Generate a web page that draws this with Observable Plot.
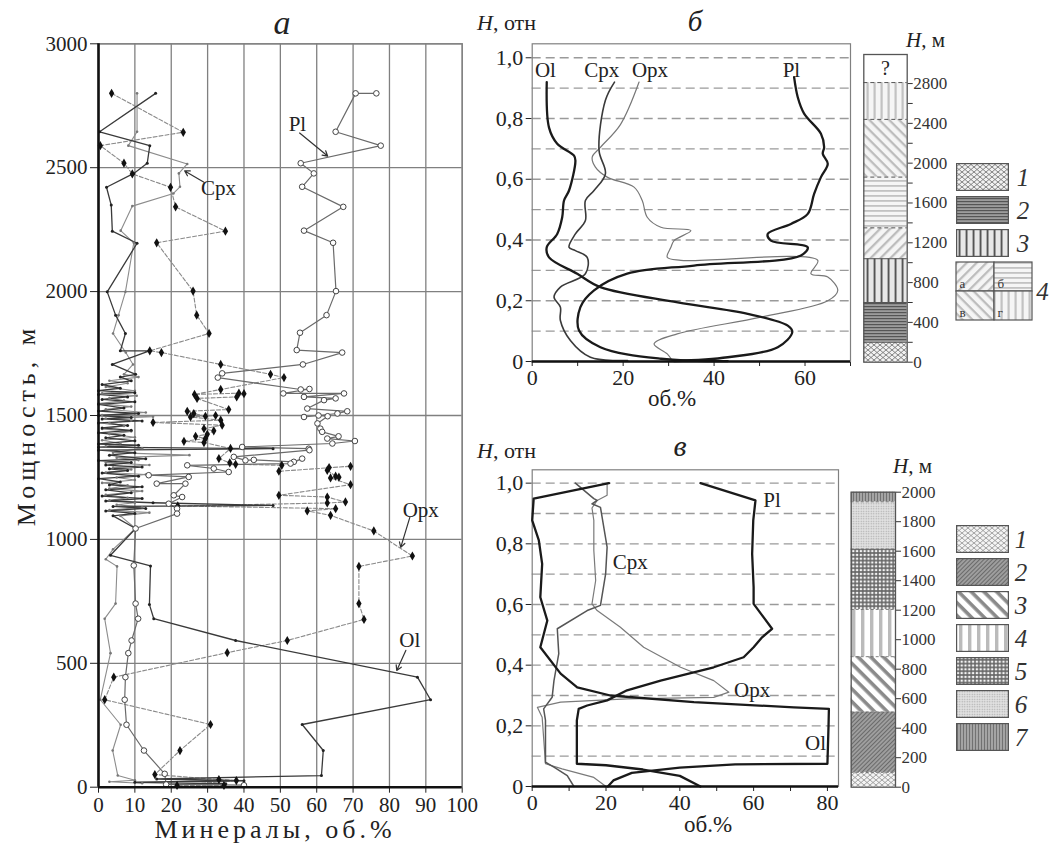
<!DOCTYPE html>
<html><head><meta charset="utf-8">
<script src="https://cdn.jsdelivr.net/npm/d3@7"></script>
<script src="https://cdn.jsdelivr.net/npm/@observablehq/plot@0.6"></script>
<style>
body{margin:0;background:#fff}
#root{position:relative;width:1051px;height:846px;overflow:hidden;background:#fff;font-family:"Liberation Serif","DejaVu Serif",serif}
.pane{position:absolute}
.pane svg{display:block;overflow:visible}
.pane svg text{font-family:"Liberation Serif","DejaVu Serif",serif}
</style></head><body>
<svg width="0" height="0" style="position:absolute">
<defs>
<pattern id="pb1" width="6" height="5" patternUnits="userSpaceOnUse"><rect width="6" height="5" fill="#f2f2f2"/><path d="M0,0L3,2.5L6,0M0,5L3,2.5L6,5" fill="none" stroke="#777" stroke-width="0.9"/></pattern>
<pattern id="pb2" width="4" height="3" patternUnits="userSpaceOnUse"><rect width="4" height="3" fill="#9c9c9c"/><rect width="4" height="1.2" fill="#555"/></pattern>
<pattern id="pb3" width="7" height="4" patternUnits="userSpaceOnUse"><rect width="7" height="4" fill="#e8e8e8"/><rect x="2.6" width="1.9" height="4" fill="#555"/></pattern>
<pattern id="pb4a" width="7" height="7" patternUnits="userSpaceOnUse" patternTransform="rotate(-45)"><rect width="7" height="7" fill="#f5f5f5"/><rect width="7" height="2.3" fill="#bdbdbd"/></pattern>
<pattern id="pb4b" width="4" height="5" patternUnits="userSpaceOnUse"><rect width="4" height="5" fill="#f5f5f5"/><rect width="4" height="1.8" fill="#c2c2c2"/></pattern>
<pattern id="pb4c" width="7" height="7" patternUnits="userSpaceOnUse" patternTransform="rotate(45)"><rect width="7" height="7" fill="#f5f5f5"/><rect width="7" height="2.3" fill="#bdbdbd"/></pattern>
<pattern id="pb4d" width="7" height="4" patternUnits="userSpaceOnUse"><rect width="7" height="4" fill="#f5f5f5"/><rect x="2.5" width="2.2" height="4" fill="#c2c2c2"/></pattern>
<pattern id="pv1" width="6" height="5" patternUnits="userSpaceOnUse"><rect width="6" height="5" fill="#f4f4f4"/><path d="M0,0L3,2.5L6,0M0,5L3,2.5L6,5" fill="none" stroke="#999" stroke-width="0.9"/></pattern>
<pattern id="pv2" width="3" height="3" patternUnits="userSpaceOnUse" patternTransform="rotate(-45)"><rect width="3" height="3" fill="#9e9e9e"/><rect width="3" height="1" fill="#6a6a6a"/></pattern>
<pattern id="pv3" width="9" height="9" patternUnits="userSpaceOnUse" patternTransform="rotate(45)"><rect width="9" height="9" fill="#fff"/><rect width="9" height="3.6" fill="#8a8a8a"/></pattern>
<pattern id="pv4" width="9" height="4" patternUnits="userSpaceOnUse"><rect width="9" height="4" fill="#fff"/><rect x="3" width="3.4" height="4" fill="#bbb"/></pattern>
<pattern id="pv5" width="3.8" height="3.8" patternUnits="userSpaceOnUse"><rect width="3.8" height="3.8" fill="#6a6a6a"/><circle cx="1.9" cy="1.9" r="1.3" fill="#f4f4f4"/></pattern>
<pattern id="pv6" width="2.5" height="2.5" patternUnits="userSpaceOnUse"><rect width="2.5" height="2.5" fill="#e2e2e2"/><circle cx="1.25" cy="1.25" r="0.7" fill="#a8a8a8"/></pattern>
<pattern id="pv7" width="3" height="4" patternUnits="userSpaceOnUse"><rect width="3" height="4" fill="#a4a4a4"/><rect x="1" width="1" height="4" fill="#727272"/></pattern>
</defs></svg>
<div id="root"></div>
<script>
// ---------------- DATA ----------------
// Panel а: [depth m, vol.%]
const plA = [[2800,76.4],[2800,70.7],[2645,65.2],[2589,77.6],[2518,55.6],[2477,59.2],[2423,56],[2342,67.3],[2246,56.5],[2197,64.5],[2002,65.3],[1905,62.7],[1834,55.4],[1764,54.5],[1754,67],[1706,56.2],[1670,34],[1653,32.8],[1605,55.6],[1607,58],[1589,50.8],[1589,67.5],[1575,56.5],[1569,65.2],[1562,62],[1528,57.4],[1517,68.4],[1508,65.7],[1494,56.5],[1500,60.5],[1497,63],[1468,60.2],[1447,61],[1434,61.5],[1416,66],[1407,62.9],[1397,70.5],[1387,64.3],[1373,39.5],[1366,57.8],[1360,58],[1333,37.2],[1319,40.4],[1321,42.7],[1313,53.7],[1326,56],[1306,52.8],[1299,24.4],[1286,31.7],[1272,35.8],[1259,13.8],[1252,24.8],[1225,16],[1225,23.9],[1178,20.7],[1171,23],[1144,19.3],[1124,21.6],[1104,21.6],[1044,10.2],[895,9.7],[741,10.2],[680,10.9],[592,9.1],[541,8.2],[444,7.4],[353,7.2],[252,7.7],[148,12.5],[54,18.2],[11,18.6],[8,40]];
const opxA = [[2800,3.6],[2643,23.3],[2589,0.5],[2518,7],[2475,9.3],[2421,19.8],[2342,21.2],[2244,34.9],[2197,16],[2002,26],[1905,27],[1831,30.4],[1761,14.1],[1754,17.3],[1706,33.6],[1666,47.3],[1653,51],[1605,33.6],[1585,26.4],[1590,38.6],[1588,40],[1575,38],[1569,27.1],[1524,35.8],[1517,24.4],[1508,26.2],[1497,29.4],[1500,32.2],[1494,25.3],[1481,33.6],[1472,15],[1461,34],[1447,29],[1438,31.7],[1424,29.9],[1416,26.7],[1407,29.4],[1396,23.5],[1391,29],[1367,36.3],[1326,33.1],[1309,36.1],[1303,37.7],[1299,50.4],[1275,49.6],[1295,69.3],[1290,63.4],[1279,62.9],[1255,65.2],[1251,66.1],[1248,63.8],[1221,69.3],[1178,49.6],[1171,62.9],[1151,67.9],[1147,62.9],[1135,21.8],[1124,65.2],[1115,57.4],[1097,63.8],[1034,75.7],[933,86.3],[891,71.6],[741,71.6],[677,73],[592,51.9],[543,35.4],[444,4.2],[353,1.7],[253,30.8],[148,22.4],[51,15.5],[31,33.1],[27,37.9],[7,21.6],[7,34.5]];
const olA = [[2800,15.7],[2645,0.3],[2589,14.1],[2518,13.4],[2477,9.7],[2421,2.2],[2349,3.5],[2244,3.8],[2195,10.6],[1999,2.4],[1905,4.7],[1831,7.4],[1761,6],[1761,14],[1706,3.8],[1666,10.2],[1655,6],[1640,9],[1625,1],[1610,6],[1600,0],[1592,10],[1585,0],[1575,8],[1565,1],[1555,10],[1545,0],[1530,7],[1518,0],[1508,11],[1500,0],[1492,9],[1486,1],[1478,12],[1470,0],[1460,8],[1450,1],[1440,9],[1430,0],[1420,7],[1410,2],[1398,10],[1385,0],[1380,11],[1372,0],[1366,48],[1360,0],[1350,10],[1340,3],[1325,13],[1318,0],[1310,9],[1300,2],[1292,12],[1285,3],[1278,8],[1268,1],[1255,11],[1245,0],[1232,6],[1220,3],[1212,12],[1200,2],[1188,9],[1175,1],[1165,12],[1155,2],[1148,15],[1137,48],[1133,4],[1125,13],[1115,2],[1105,10],[1095,4],[1044,10.2],[936,3.3],[893,14.3],[737,14],[680,15.2],[592,37.7],[444,87.7],[353,91.3],[253,56],[148,61.8],[47,61.3],[33,16],[26,40],[20,10],[14,35]];
const cpxA = [[2800,10.6],[2645,10.6],[2589,8.2],[2515,24.4],[2477,22.1],[2423,22.4],[2396,20.6],[2345,9.3],[2246,6.1],[2197,9.7],[1999,7.4],[1905,5.5],[1831,4],[1754,7.5],[1706,9.5],[1666,7],[1655,11],[1640,3],[1630,8],[1615,2],[1600,10],[1590,1],[1580,10.5],[1570,3],[1560,7],[1548,0],[1536,9],[1525,2],[1512,13],[1502,1],[1495,15],[1488,2],[1480,9],[1470,3],[1458,7],[1446,1],[1436,9],[1425,3],[1412,10],[1400,1],[1388,6],[1376,2],[1368,12],[1350,4],[1340,25],[1330,5],[1320,11],[1310,2],[1300,14],[1290,4],[1282,9],[1270,2],[1262,13],[1250,5],[1240,10],[1228,1],[1218,8],[1205,3],[1195,12],[1180,2],[1168,8],[1158,3],[1148,10],[1140,5],[1130,12],[1118,3],[1108,14],[1095,6],[1044,10.2],[960,4],[920,2],[891,5.1],[741,4.7],[680,1.7],[541,3.3],[353,0.5],[252,6.1],[148,3.9],[47,5.3],[28,10],[22,3],[16,12]];
const labelsA = [{t:"Pl",v:54.7,h:2676},{t:"Cpx",v:33,h:2418},{t:"Opx",v:88.6,h:1118},{t:"Ol",v:85.6,h:593}];
const arrowsA = [{v1:55.3,h1:2640,v2:63,h2:2547},{v1:28.9,h1:2442,v2:23.7,h2:2487},{v1:85.6,h1:1089,v2:83.1,h2:968},{v1:84.5,h1:552,v2:82,h2:471}];

// Panel б: [vol.%, H rel]
const olB = [[3.2,0.92],[3.7,0.77],[5.5,0.717],[9.2,0.678],[9.5,0.662],[8.1,0.563],[7,0.53],[6.6,0.475],[5.5,0.42],[3.2,0.376],[3.7,0.343],[9.9,0.289],[15,0.245],[32,0.195],[47.4,0.157],[56.2,0.118],[57.2,0.097],[54,0.047],[43,0.014],[31.2,0.001]];
const plB = [[57.6,0.936],[58.4,0.87],[59.8,0.816],[63.5,0.75],[64.2,0.706],[63.9,0.684],[65,0.651],[63.5,0.607],[62,0.552],[60.6,0.486],[56.9,0.453],[51.8,0.42],[52.5,0.398],[60.6,0.376],[59.1,0.349],[35.6,0.316],[20.9,0.289],[13.6,0.234],[10.6,0.179],[10.3,0.102],[15,0.047],[28.3,0.009],[43,0.001]];
const cpxB = [[18.1,0.92],[16.1,0.86],[14.7,0.695],[16.1,0.618],[13.6,0.563],[11.7,0.53],[11.7,0.464],[9.5,0.42],[8.1,0.376],[9.5,0.365],[12.1,0.343],[11.7,0.289],[6.2,0.245],[4.8,0.212],[6.2,0.179],[6.2,0.135],[8.4,0.069],[12.8,0.014],[21,0.003]];
const opxB = [[23.5,0.92],[19.4,0.78],[15,0.705],[13.2,0.673],[13.9,0.64],[16.5,0.607],[22.4,0.574],[24.2,0.53],[25.3,0.475],[28.3,0.442],[34.9,0.431],[31.2,0.398],[30.5,0.376],[29.7,0.343],[32.7,0.333],[62.8,0.333],[61.3,0.289],[65,0.278],[67.2,0.234],[65,0.2],[50.3,0.146],[31.9,0.091],[26.8,0.058],[29.7,0.025],[30.8,0.003]];
const labelsB = [{t:"Ol",v:2.9,h:0.958},{t:"Cpx",v:15.3,h:0.958},{t:"Opx",v:25.9,h:0.958},{t:"Pl",v:57,h:0.958}];

// Panel в: [vol.%, H rel]
const plV = [[45.6,1.0],[60.5,0.943],[59.9,0.877],[59.6,0.767],[60,0.657],[60,0.602],[65,0.52],[62.3,0.492],[60,0.459],[57.3,0.426],[49.2,0.393],[34.8,0.349],[25.7,0.317],[20.3,0.284],[14.9,0.267],[12.6,0.256],[12.1,0.218],[12.1,0.075],[20,0.07],[30,0.056],[40,0.035],[45.6,0]];
const olV = [[20.8,1.0],[0.4,0.949],[0,0.877],[1.8,0.811],[2.7,0.734],[2.2,0.624],[4.1,0.547],[2.2,0.459],[7.7,0.372],[12.2,0.327],[21.2,0.3],[43.8,0.278],[70.9,0.261],[80.4,0.256],[80.3,0.2],[80,0.075],[55,0.073],[40,0.062],[27,0.045],[22,0.02],[20.5,0]];
const cpxV = [[11.7,1.0],[16.7,0.949],[17.6,0.943],[16.2,0.932],[18.5,0.92],[20.3,0.789],[19.9,0.701],[18.5,0.597],[14.9,0.58],[6.8,0.52],[7.2,0.438],[5.9,0.349],[5.4,0.294],[3.1,0.256],[3.6,0.218],[3.6,0.08],[5.9,0.064],[9.5,0.036],[11.3,0]];
const opxV = [[20.3,1.0],[20.3,0.96],[17.6,0.943],[16.2,0.918],[16.7,0.877],[16.7,0.778],[17.2,0.679],[16.2,0.602],[17.6,0.58],[23.9,0.525],[30.2,0.459],[40.2,0.393],[49.2,0.349],[53.3,0.311],[49.2,0.294],[25.7,0.289],[7.7,0.278],[1.4,0.261],[2.7,0.228],[3.6,0.075],[8.1,0.058],[16.7,0.03],[20,0]];
const labelsV = [{t:"Pl",v:65,h:0.943},{t:"Cpx",v:26.6,h:0.74},{t:"Opx",v:59.6,h:0.317},{t:"Ol",v:76.8,h:0.141}];

// Columns
const colBBounds = [0,200,600,1040,1350,1860,2440,2810,3092];
const colBTypes = ["1","2","3","4а","4б","4в","4г","?"];
const colBTicks = [0,400,800,1200,1600,2000,2400,2800];
const colVBounds = [0,100,510,885,1205,1615,1935,2000];
const colVTypes = ["1","2","3","4","5","6","7"];
const legendB = ["1","2","3"];
const legendB4 = [{k:"4а",c:"l",r:"t",s:"а"},{k:"4б",c:"r",r:"t",s:"б"},{k:"4в",c:"l",r:"b",s:"в"},{k:"4г",c:"r",r:"b",s:"г"}];
const legendV = ["1","2","3","4","5","6","7"];

// ---------------- STYLE MAPS ----------------
const patB = {"1":"url(#pb1)","2":"url(#pb2)","3":"url(#pb3)","4а":"url(#pb4a)","4б":"url(#pb4b)","4в":"url(#pb4c)","4г":"url(#pb4d)","?":"white"};
const patV = {"1":"url(#pv1)","2":"url(#pv2)","3":"url(#pv3)","4":"url(#pv4)","5":"url(#pv5)","6":"url(#pv6)","7":"url(#pv7)"};
const FONT = "'Liberation Serif','DejaVu Serif',serif";
const root = document.getElementById("root");
function place(node, left, top){const d=document.createElement("div");d.className="pane";d.style.left=left+"px";d.style.top=top+"px";d.appendChild(node);root.appendChild(d);}
const comma = d => d === 0 ? "0" : d.toFixed(1).replace(".", ",");
const plain = d => String(d);
const X = d => d[1], Y = d => d[0];
const VX = d => d[0], HY = d => d[1];

// ---------------- PANEL а ----------------
place(Plot.plot({
  width: 470, height: 846, marginLeft: 98, marginRight: 8.3, marginTop: 43.3, marginBottom: 59.3,
  style: {fontFamily: FONT, fontSize: "21px", background: "transparent", color: "#222", overflow: "visible"},
  x: {domain: [0, 100], ticks: d3.range(0, 101, 10), tickFormat: plain, tickSize: 6, tickPadding: 4, label: null},
  y: {domain: [0, 3000], ticks: d3.range(0, 3001, 500), tickFormat: plain, tickSize: 8, tickPadding: 3, label: null},
  marks: [
    Plot.ruleX(d3.range(10, 101, 10), {stroke: "#808080", strokeWidth: 1.3}),
    Plot.ruleY(d3.range(500, 3001, 500), {stroke: "#808080", strokeWidth: 1.3}),
    Plot.frame({stroke: "#808080", strokeWidth: 1.3}),
    Plot.line(opxA, {x: X, y: Y, stroke: "#8a8a8a", strokeWidth: 1.1, strokeDasharray: "4,2"}),
    Plot.line(cpxA, {x: X, y: Y, stroke: "#8c8c8c", strokeWidth: 1.1}),
    Plot.line(plA, {x: X, y: Y, stroke: "#6a6a6a", strokeWidth: 1.2}),
    Plot.line(olA, {x: X, y: Y, stroke: "#3a3a3a", strokeWidth: 1.3}),
    Plot.dot(cpxA, {x: X, y: Y, r: 1.3, fill: "#777"}),
    Plot.dot(olA, {x: X, y: Y, r: 1.5, fill: "#222"}),
    Plot.dot(opxA, {x: X, y: Y, r: 2.8, symbol: "diamond", fill: "#111"}),
    Plot.dot(plA, {x: X, y: Y, r: 2.8, fill: "white", stroke: "#444", strokeWidth: 1}),
    Plot.ruleX([0], {stroke: "#111", strokeWidth: 2.6}),
    Plot.ruleY([0], {stroke: "#111", strokeWidth: 2.6}),
    Plot.arrow(arrowsA, {x1: "v1", y1: "h1", x2: "v2", y2: "h2", stroke: "#333", strokeWidth: 1.2, headLength: 7}),
    Plot.text(labelsA, {x: "v", y: "h", text: "t", fontSize: 21, fill: "#222"})
  ]
}), 0, 0);

// ---------------- PANEL б ----------------
place(Plot.plot({
  width: 400, height: 420, marginLeft: 71.7, marginRight: 10, marginTop: 43.3, marginBottom: 59,
  style: {fontFamily: FONT, fontSize: "22px", background: "transparent", color: "#222", overflow: "visible"},
  x: {domain: [0, 70], ticks: d3.range(0, 71, 10), tickFormat: d => d % 20 === 0 ? String(d) : "", tickSize: 5, tickPadding: 3, label: null},
  y: {domain: [0, 1.046], ticks: [0, 0.2, 0.4, 0.6, 0.8, 1.0], tickFormat: comma, tickSize: 6, tickPadding: 3, label: null},
  marks: [
    Plot.ruleY(d3.range(1, 11).map(i => i / 10), {stroke: "#9a9a9a", strokeWidth: 1.3, strokeDasharray: "9,5"}),
    Plot.frame({stroke: "#808080", strokeWidth: 1.2}),
    Plot.line(opxB, {x: VX, y: HY, curve: "catmull-rom", stroke: "#777", strokeWidth: 1.2}),
    Plot.line(cpxB, {x: VX, y: HY, curve: "catmull-rom", stroke: "#3a3a3a", strokeWidth: 1.6}),
    Plot.line(olB, {x: VX, y: HY, curve: "catmull-rom", stroke: "#1a1a1a", strokeWidth: 2.3}),
    Plot.line(plB, {x: VX, y: HY, curve: "catmull-rom", stroke: "#1a1a1a", strokeWidth: 2.3}),
    Plot.ruleY([0], {stroke: "#111", strokeWidth: 2.4}),
    Plot.text(labelsB, {x: "v", y: "h", text: "t", fontSize: 21, fill: "#222"})
  ]
}), 460, 0);

// ---------------- PANEL в ----------------
place(Plot.plot({
  width: 400, height: 426, marginLeft: 71.7, marginRight: 22, marginTop: 49.3, marginBottom: 60,
  style: {fontFamily: FONT, fontSize: "22px", background: "transparent", color: "#222", overflow: "visible"},
  x: {domain: [0, 83], ticks: d3.range(0, 81, 10), tickFormat: d => d % 20 === 0 ? String(d) : "", tickSize: 5, tickPadding: 3, label: null},
  y: {domain: [0, 1.044], ticks: [0, 0.2, 0.4, 0.6, 0.8, 1.0], tickFormat: comma, tickSize: 6, tickPadding: 3, label: null},
  marks: [
    Plot.ruleY(d3.range(1, 11).map(i => i / 10), {stroke: "#9a9a9a", strokeWidth: 1.3, strokeDasharray: "9,5"}),
    Plot.frame({stroke: "#808080", strokeWidth: 1.2}),
    Plot.line(opxV, {x: VX, y: HY, stroke: "#7a7a7a", strokeWidth: 1.2}),
    Plot.line(cpxV, {x: VX, y: HY, stroke: "#555", strokeWidth: 1.5}),
    Plot.line(olV, {x: VX, y: HY, stroke: "#1a1a1a", strokeWidth: 2.3}),
    Plot.line(plV, {x: VX, y: HY, stroke: "#1a1a1a", strokeWidth: 2.3}),
    Plot.ruleY([0], {stroke: "#111", strokeWidth: 2.4}),
    Plot.text(labelsV, {x: "v", y: "h", text: "t", fontSize: 21, fill: "#222"})
  ]
}), 460, 420);

// ---------------- COLUMN б ----------------
const layersB = colBTypes.map((t, i) => ({type: t, from: colBBounds[i], to: colBBounds[i + 1]}));
const dashedTop = new Set(["4б", "4в", "4г", "?"]);
place(Plot.plot({
  width: 120, height: 420, marginLeft: 13.3, marginRight: 63.3, marginTop: 54, marginBottom: 58.3,
  style: {fontFamily: FONT, fontSize: "17px", background: "transparent", color: "#333", overflow: "visible"},
  x: {domain: [0, 1], axis: null},
  y: {domain: [0, colBBounds[colBBounds.length - 1]], axis: "right", ticks: d3.range(0, 2801, 200), tickFormat: d => colBTicks.includes(d) ? String(d) : "", tickSize: 5, tickPadding: 1, label: null},
  marks: [
    ...layersB.map(l => Plot.rect([l], {x1: 0, x2: 1, y1: "from", y2: "to", fill: patB[l.type]})),
    Plot.ruleY(layersB.slice(1).filter(l => !dashedTop.has(l.type)), {y: "from", stroke: "#555", strokeWidth: 1}),
    Plot.ruleY(layersB.slice(1).filter(l => dashedTop.has(l.type)), {y: "from", stroke: "#555", strokeWidth: 1, strokeDasharray: "4,3"}),
    Plot.frame({stroke: "#555", strokeWidth: 1.3}),
    Plot.text(layersB.filter(l => l.type === "?"), {x: 0.5, y: d => (d.from + d.to) / 2, text: "type", fontSize: 20, fill: "#222"})
  ]
}), 850, 0);

// ---------------- COLUMN в ----------------
const layersV = colVTypes.map((t, i) => ({type: t, from: colVBounds[i], to: colVBounds[i + 1]}));
place(Plot.plot({
  width: 120, height: 426, marginLeft: 10.7, marginRight: 65, marginTop: 71.7, marginBottom: 59.3,
  style: {fontFamily: FONT, fontSize: "17px", background: "transparent", color: "#333", overflow: "visible"},
  x: {domain: [0, 1], axis: null},
  y: {domain: [0, 2000], axis: "right", ticks: d3.range(0, 2001, 200), tickFormat: plain, tickSize: 5, tickPadding: 1, label: null},
  marks: [
    ...layersV.map(l => Plot.rect([l], {x1: 0, x2: 1, y1: "from", y2: "to", fill: patV[l.type]})),
    Plot.ruleY(layersV.slice(1), {y: "from", stroke: "#666", strokeWidth: 0.8, strokeDasharray: "3,2"}),
    Plot.frame({stroke: "#555", strokeWidth: 1.3})
  ]
}), 840, 420);

// ---------------- LEGENDS ----------------
place(Plot.plot({
  width: 90, height: 95.5, marginLeft: 0, marginRight: 37, marginTop: 0, marginBottom: 0,
  style: {fontFamily: FONT, background: "transparent", color: "#333", overflow: "visible"},
  x: {domain: ["box"], axis: null, padding: 0},
  y: {domain: legendB, axis: null, paddingInner: 0.15, paddingOuter: 0},
  marks: [
    ...legendB.map(k => Plot.cell([k], {x: () => "box", y: d => d, fill: patB[k], stroke: "#555", strokeWidth: 1.2, inset: 0.6})),
    Plot.text(legendB, {x: () => "box", y: d => d, text: d => d, dx: 40, fontSize: 25, fontStyle: "italic", fill: "#333"})
  ]
}), 956, 162);

place(Plot.plot({
  width: 95, height: 58, marginLeft: 0, marginRight: 18.3, marginTop: 0, marginBottom: 0,
  style: {fontFamily: FONT, background: "transparent", color: "#333", overflow: "visible"},
  x: {domain: ["l", "r"], axis: null, padding: 0},
  y: {domain: ["t", "b"], axis: null, padding: 0},
  marks: [
    ...legendB4.map(q => Plot.cell([q], {x: "c", y: "r", fill: patB[q.k], stroke: "#555", strokeWidth: 1.2})),
    Plot.text(legendB4, {x: "c", y: "r", text: "s", dx: -16, dy: 7, textAnchor: "start", fontSize: 13, fill: "#333"}),
    Plot.text(["4"], {x: () => "r", y: () => "t", text: d => d, dx: 29, dy: 15, fontSize: 25, fontStyle: "italic", fill: "#333"})
  ]
}), 956, 262);

place(Plot.plot({
  width: 90, height: 229.5, marginLeft: 0, marginRight: 37, marginTop: 0, marginBottom: 0,
  style: {fontFamily: FONT, background: "transparent", color: "#333", overflow: "visible"},
  x: {domain: ["box"], axis: null, padding: 0},
  y: {domain: legendV, axis: null, paddingInner: 0.149, paddingOuter: 0},
  marks: [
    ...legendV.map(k => Plot.cell([k], {x: () => "box", y: d => d, fill: patV[k], stroke: "#555", strokeWidth: 1.2, inset: 0.6})),
    Plot.text(legendV, {x: () => "box", y: d => d, text: d => d, dx: 38, fontSize: 25, fontStyle: "italic", fill: "#333"})
  ]
}), 956, 522.7);

// ---------------- TEXT OVERLAY ----------------
const ov = document.createElementNS("http://www.w3.org/2000/svg", "svg");
ov.setAttribute("width", 1051); ov.setAttribute("height", 846);
ov.style.pointerEvents = "none";
ov.innerHTML = `
<g style="font-family:${FONT}" fill="#222">
  <text x="282" y="34" font-size="34" font-style="italic" text-anchor="middle">а</text>
  <text transform="translate(35,425) rotate(-90)" font-size="26" letter-spacing="5" text-anchor="middle">Мощность, м</text>
  <text x="275" y="838" font-size="26" letter-spacing="4" text-anchor="middle">Минералы, об.%</text>
  <text x="477" y="30" font-size="22"><tspan font-style="italic">H</tspan>, отн</text>
  <text x="695" y="31" font-size="29" font-style="italic" text-anchor="middle">б</text>
  <text x="672" y="406" font-size="23" text-anchor="middle">об.%</text>
  <text x="477" y="458" font-size="22"><tspan font-style="italic">H</tspan>, отн</text>
  <text x="680" y="456" font-size="30" font-style="italic" text-anchor="middle">в</text>
  <text x="708" y="832" font-size="23" text-anchor="middle">об.%</text>
  <text x="906" y="47" font-size="21"><tspan font-style="italic">H</tspan>, м</text>
  <text x="893" y="473" font-size="21"><tspan font-style="italic">H</tspan>, м</text>
</g>`;
place(ov, 0, 0);
</script></body></html>
